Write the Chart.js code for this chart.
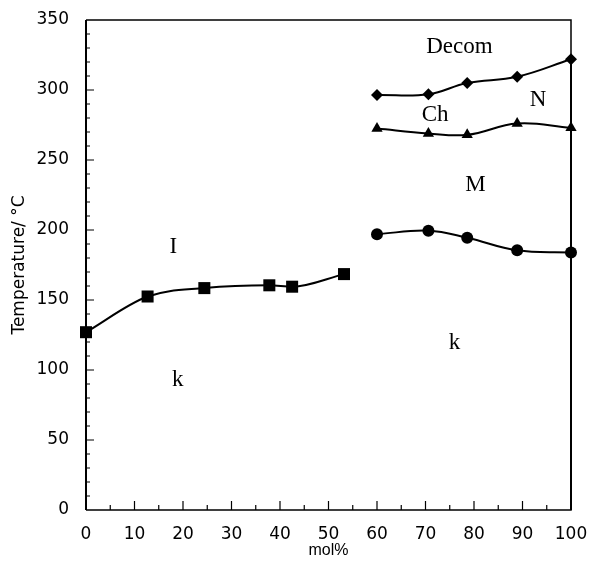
<!DOCTYPE html>
<html>
<head>
<meta charset="utf-8">
<script src="https://cdn.jsdelivr.net/npm/chart.js@4/dist/chart.umd.min.js"></script>
<style>
  html, body { margin: 0; padding: 0; background: #fff; }
  #wrap { width: 591px; height: 566px; }
</style>
</head>
<body>
<div id="wrap"><canvas id="c" width="591" height="566"></canvas></div>
<script>
// ---- data ----
const squareX = [0, 12.7, 24.4, 37.8, 42.5, 53.2];
const squareY = [127, 152.5, 158.5, 160.5, 159.5, 168.5];

const diamondX = [60, 70.6, 78.6, 88.9, 100];
const diamondY = [296.5, 297, 305, 309.5, 322];

const triangleX = [60, 70.6, 78.6, 88.9, 100];
const triangleY = [272.5, 269, 268, 276, 273];

const circleX = [60, 70.6, 78.6, 88.9, 100];
const circleY = [197, 199.5, 194.5, 185.5, 184];

const boundaryX = [100, 100];
const boundaryY = [0, 322];

const phaseLabels = ['Decom', 'Ch', 'N', 'M', 'I', 'k', 'k'];
const phaseLabelX = [77, 72, 93.2, 80.3, 18, 18.9, 76];
const phaseLabelY = [331, 282, 293, 232, 188, 93, 119];

const xTickMin = 0, xTickMax = 100, xTickStep = 10;
const yTickMin = 0, yTickMax = 350, yTickStep = 50;

const pts = (xs, ys) => xs.map((x, i) => ({ x, y: ys[i] }));

const framePlugin = {
  id: 'frame',
  beforeDatasetsDraw(chart) {
    const { ctx, chartArea: a, scales: { x, y } } = chart;
    ctx.save();
    ctx.strokeStyle = '#000';
    // inward ticks
    ctx.lineWidth = 1.2;
    ctx.beginPath();
    for (let v = xTickMin + 5; v < xTickMax; v += 5) {
      const px = x.getPixelForValue(v);
      const len = (v % 10 === 0) ? 9 : 5;
      ctx.moveTo(px, a.bottom);
      ctx.lineTo(px, a.bottom - len);
    }
    for (let v = yTickMin + 10; v < yTickMax; v += 10) {
      const py = y.getPixelForValue(v);
      const len = (v % 50 === 0) ? 8 : 4;
      ctx.moveTo(a.left, py);
      ctx.lineTo(a.left + len, py);
    }
    ctx.stroke();
    // frame
    ctx.lineWidth = 1.5;
    ctx.beginPath();
    ctx.moveTo(a.left, a.top);
    ctx.lineTo(a.right, a.top);
    ctx.lineTo(a.right, a.bottom);
    ctx.lineTo(a.left, a.bottom);
    ctx.stroke();
    ctx.lineWidth = 2;
    ctx.beginPath();
    ctx.moveTo(a.left, a.top);
    ctx.lineTo(a.left, a.bottom);
    ctx.stroke();
    ctx.restore();
  },
  afterDatasetsDraw(chart) {
    const { ctx, scales: { x, y } } = chart;
    ctx.save();
    ctx.fillStyle = '#000';
    ctx.font = '23px "Liberation Serif", "Times New Roman", serif';
    ctx.textAlign = 'center';
    ctx.textBaseline = 'middle';
    phaseLabels.forEach((t, i) => {
      ctx.fillText(t, x.getPixelForValue(phaseLabelX[i]), y.getPixelForValue(phaseLabelY[i]));
    });
    ctx.restore();
  }
};

const lineDs = (data, style, radius, mode) => ({
  data,
  showLine: true,
  cubicInterpolationMode: mode,
  tension: 0.4,
  borderColor: '#000',
  backgroundColor: '#000',
  borderWidth: 2,
  pointStyle: style,
  pointRadius: radius,
  pointBorderWidth: 0,
  pointBackgroundColor: '#000',
  clip: false
});

function zeroPad(s) {
  s.paddingTop = 0; s.paddingBottom = 0; s.paddingLeft = 0; s.paddingRight = 0;
}

new Chart(document.getElementById('c'), {
  type: 'scatter',
  data: {
    datasets: [
      {
        data: pts(boundaryX, boundaryY), showLine: true, tension: 0,
        borderColor: '#000', borderWidth: 2, pointRadius: 0, clip: false
      },
      lineDs(pts(squareX, squareY), 'rect', 8.5, 'monotone'),
      lineDs(pts(diamondX, diamondY), 'rectRot', 6, 'default'),
      lineDs(pts(triangleX, triangleY), 'triangle', 6.5, 'default'),
      lineDs(pts(circleX, circleY), 'circle', 6, 'default')
    ]
  },
  options: {
    responsive: false,
    animation: false,
    devicePixelRatio: 1,
    layout: { padding: { top: 20, right: 20, left: 0, bottom: 0 } },
    plugins: { legend: { display: false }, tooltip: { enabled: false } },
    scales: {
      x: {
        type: 'linear',
        min: xTickMin, max: xTickMax,
        grid: { display: false, drawTicks: false },
        border: { display: false },
        ticks: {
          stepSize: xTickStep, color: '#000', padding: 14,
          font: { family: '"DejaVu Sans", sans-serif', size: 17 }
        },
        title: {
          display: true, text: 'mol%', color: '#000',
          font: { family: '"Liberation Sans", Arial, sans-serif', size: 16 },
          padding: { top: 0, bottom: 6 }
        },
        afterFit(s) { s.height = 56; zeroPad(s); }
      },
      y: {
        type: 'linear',
        min: yTickMin, max: yTickMax,
        grid: { display: false, drawTicks: false },
        border: { display: false },
        ticks: {
          stepSize: yTickStep, color: '#000', padding: 17,
          font: { family: '"DejaVu Sans", sans-serif', size: 17 }
        },
        title: {
          display: true, text: 'Temperature/ °C', color: '#000',
          font: { family: '"DejaVu Sans", sans-serif', size: 17 },
          padding: { top: 9, bottom: 0 }
        },
        afterFit(s) { s.width = 86; zeroPad(s); }
      }
    }
  },
  plugins: [framePlugin]
});
</script>
</body>
</html>
